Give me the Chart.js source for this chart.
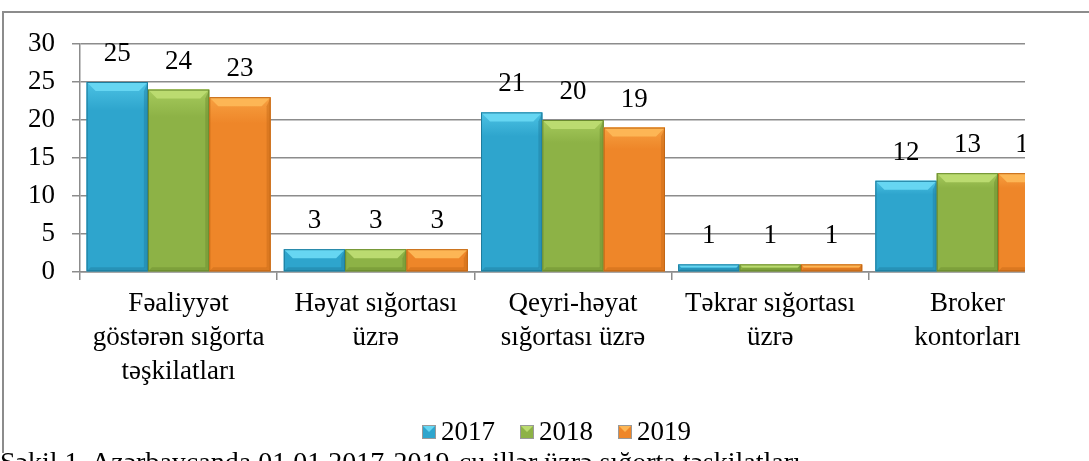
<!DOCTYPE html>
<html>
<head>
<meta charset="utf-8">
<script src="https://cdn.jsdelivr.net/npm/chart.js@4.4.1/dist/chart.umd.min.js"></script>
<style>
  html, body { margin: 0; padding: 0; background: #fff; }
  body { width: 1089px; height: 461px; position: relative; overflow: hidden; font-family: "Liberation Serif", "Times New Roman", serif; }
  #frameTop { position: absolute; left: 3px; top: 11px; width: 1086px; height: 2px; background: #8c8c8c; }
  #frameLeft { position: absolute; left: 2px; top: 11px; width: 2px; height: 442px; background: #8c8c8c; }
  #clip { position: absolute; left: 0; top: 0; width: 1025px; height: 461px; overflow: hidden; }
  #chart { position: absolute; left: 0; top: 0; }
  #caption { position: absolute; left: 0; top: 448px; font-size: 28px; line-height: 28px; white-space: nowrap; color: #000; }
</style>
</head>
<body>
<div id="frameTop"></div>
<div id="frameLeft"></div>
<div id="clip"><canvas id="chart" width="1112" height="461"></canvas></div>
<div id="caption">Şəkil 1. Azərbaycanda 01.01.2017-2019-cu illər üzrə sığorta təşkilatları</div>
<script>
// ---- data ----
const categories = [
  ["Fəaliyyət", "göstərən sığorta", "təşkilatları"],
  ["Həyat sığortası", "üzrə"],
  ["Qeyri-həyat", "sığortası üzrə"],
  ["Təkrar sığortası", "üzrə"],
  ["Broker", "kontorları"]
];
const seriesNames = ["2017", "2018", "2019"];
const values2017 = [25, 3, 21, 1, 12];
const values2018 = [24, 3, 20, 1, 13];
const values2019 = [23, 3, 19, 1, 13];
const yMin = 0, yMax = 30, yStep = 5;

// ---- styles ----
const FONT = "'Liberation Serif', 'Times New Roman', serif";
const palettes = [
  { body: '#2EA5CD', top: '#66D6F2', dark: '#1E7C9D', light: '#4CC2E4' },
  { body: '#8DB246', top: '#BBDB70', dark: '#6A8A2F', light: '#A6CA5C' },
  { body: '#EE8629', top: '#FDB655', dark: '#C36816', light: '#F7A040' }
];
const gridColor = '#8c8c8c';

const bevelPlugin = {
  id: 'bevel',
  afterDatasetsDraw(chart) {
    const ctx = chart.ctx;
    chart.data.datasets.forEach((ds, i) => {
      const meta = chart.getDatasetMeta(i);
      const p = palettes[i];
      meta.data.forEach(bar => {
        const { x, y, base, width } = bar.getProps(['x', 'y', 'base', 'width'], true);
        const l = x - width / 2, r = x + width / 2, h = base - y;
        const b = Math.min(9, h / 2.3);
        ctx.save();
        const g = ctx.createLinearGradient(0, y, 0, base);
        g.addColorStop(0, p.light);
        g.addColorStop(0.15, p.body);
        g.addColorStop(1, p.body);
        ctx.fillStyle = g;
        ctx.fillRect(l, y, width, h);
        ctx.fillStyle = p.top;
        ctx.beginPath();
        ctx.moveTo(l, y); ctx.lineTo(r, y); ctx.lineTo(r - b, y + b); ctx.lineTo(l + b, y + b); ctx.closePath();
        ctx.fill();
        ctx.fillStyle = p.dark;
        ctx.globalAlpha = 0.45;
        const s = Math.min(4, b);
        ctx.beginPath();
        ctx.moveTo(r, y); ctx.lineTo(r, base); ctx.lineTo(r - s, base - s); ctx.lineTo(r - s, y + b); ctx.closePath();
        ctx.fill();
        ctx.beginPath();
        ctx.moveTo(l, base); ctx.lineTo(r, base); ctx.lineTo(r - s, base - s); ctx.lineTo(l + s, base - s); ctx.closePath();
        ctx.fill();
        ctx.globalAlpha = 1;
        ctx.strokeStyle = p.dark;
        ctx.lineWidth = 1;
        ctx.strokeRect(l + 0.5, y + 0.5, width - 1, h - 1);
        ctx.restore();
      });
    });
  }
};

const valueLabelPlugin = {
  id: 'valueLabels',
  afterDatasetsDraw(chart) {
    const ctx = chart.ctx;
    ctx.save();
    ctx.font = '27px ' + FONT;
    ctx.fillStyle = '#000';
    ctx.textAlign = 'center';
    ctx.textBaseline = 'middle';
    chart.data.datasets.forEach((ds, i) => {
      const meta = chart.getDatasetMeta(i);
      meta.data.forEach((bar, j) => {
        const { x, y } = bar.getProps(['x', 'y'], true);
        ctx.fillText(String(ds.data[j]), x, y - 28);
      });
    });
    ctx.restore();
  }
};

const legendPlugin = {
  id: 'customLegend',
  afterDraw(chart) {
    const ctx = chart.ctx;
    ctx.save();
    ctx.font = '27px ' + FONT;
    ctx.textBaseline = 'middle';
    ctx.textAlign = 'left';
    const box = 14, gapText = 5, gapItem = 25, cy = 432;
    const items = chart.data.datasets.map(d => ({ label: d.label, w: ctx.measureText(d.label).width }));
    const total = items.reduce((s, it) => s + box + gapText + it.w, 0) + gapItem * (items.length - 1);
    let x = 556.5 - total / 2;
    items.forEach((it, i) => {
      const p = palettes[i];
      const by = cy - 7;
      ctx.fillStyle = p.body;
      ctx.fillRect(x, by, box, box);
      ctx.fillStyle = p.top;
      ctx.beginPath();
      ctx.moveTo(x, by); ctx.lineTo(x + box, by); ctx.lineTo(x + box / 2, by + box / 2); ctx.closePath();
      ctx.fill();
      ctx.strokeStyle = '#999';
      ctx.lineWidth = 1;
      ctx.strokeRect(x + 0.5, by + 0.5, box - 1, box - 1);
      ctx.fillStyle = '#000';
      ctx.fillText(it.label, x + box + gapText, cy + 1);
      x += box + gapText + it.w + gapItem;
    });
    ctx.restore();
  }
};

const seriesValues = [values2017, values2018, values2019];

new Chart(document.getElementById('chart'), {
  type: 'bar',
  data: {
    labels: categories,
    datasets: seriesNames.map((name, i) => ({
      label: name,
      data: seriesValues[i],
      backgroundColor: palettes[i].body,
      borderWidth: 0,
      categoryPercentage: 0.933,
      barPercentage: 1.0
    }))
  },
  options: {
    responsive: false,
    animation: false,
    devicePixelRatio: 1,
    layout: { padding: { top: 44, right: 46, bottom: 0, left: 0 } },
    plugins: {
      legend: { display: false },
      tooltip: { enabled: false },
      title: { display: false }
    },
    scales: {
      x: {
        grid: { display: true, drawOnChartArea: false, drawTicks: true, tickLength: 8, color: gridColor, lineWidth: 1.5, offset: true },
        border: { display: true, color: gridColor, width: 1.5 },
        ticks: {
          color: '#000', font: { family: FONT, size: 27, lineHeight: 1.26 },
          maxRotation: 0, minRotation: 0, autoSkip: false, padding: 7
        },
        afterFit(scale) { scale.height = 461 - 272; }
      },
      y: {
        min: yMin, max: yMax,
        grid: { color: gridColor, lineWidth: 1.5, tickLength: 8, drawTicks: true },
        border: { display: true, color: gridColor, width: 1.5 },
        ticks: { stepSize: yStep, color: '#000', font: { family: FONT, size: 27 }, padding: 17 },
        afterFit(scale) { scale.width = 80; }
      }
    }
  },
  plugins: [bevelPlugin, valueLabelPlugin, legendPlugin]
});
</script>
</body>
</html>
